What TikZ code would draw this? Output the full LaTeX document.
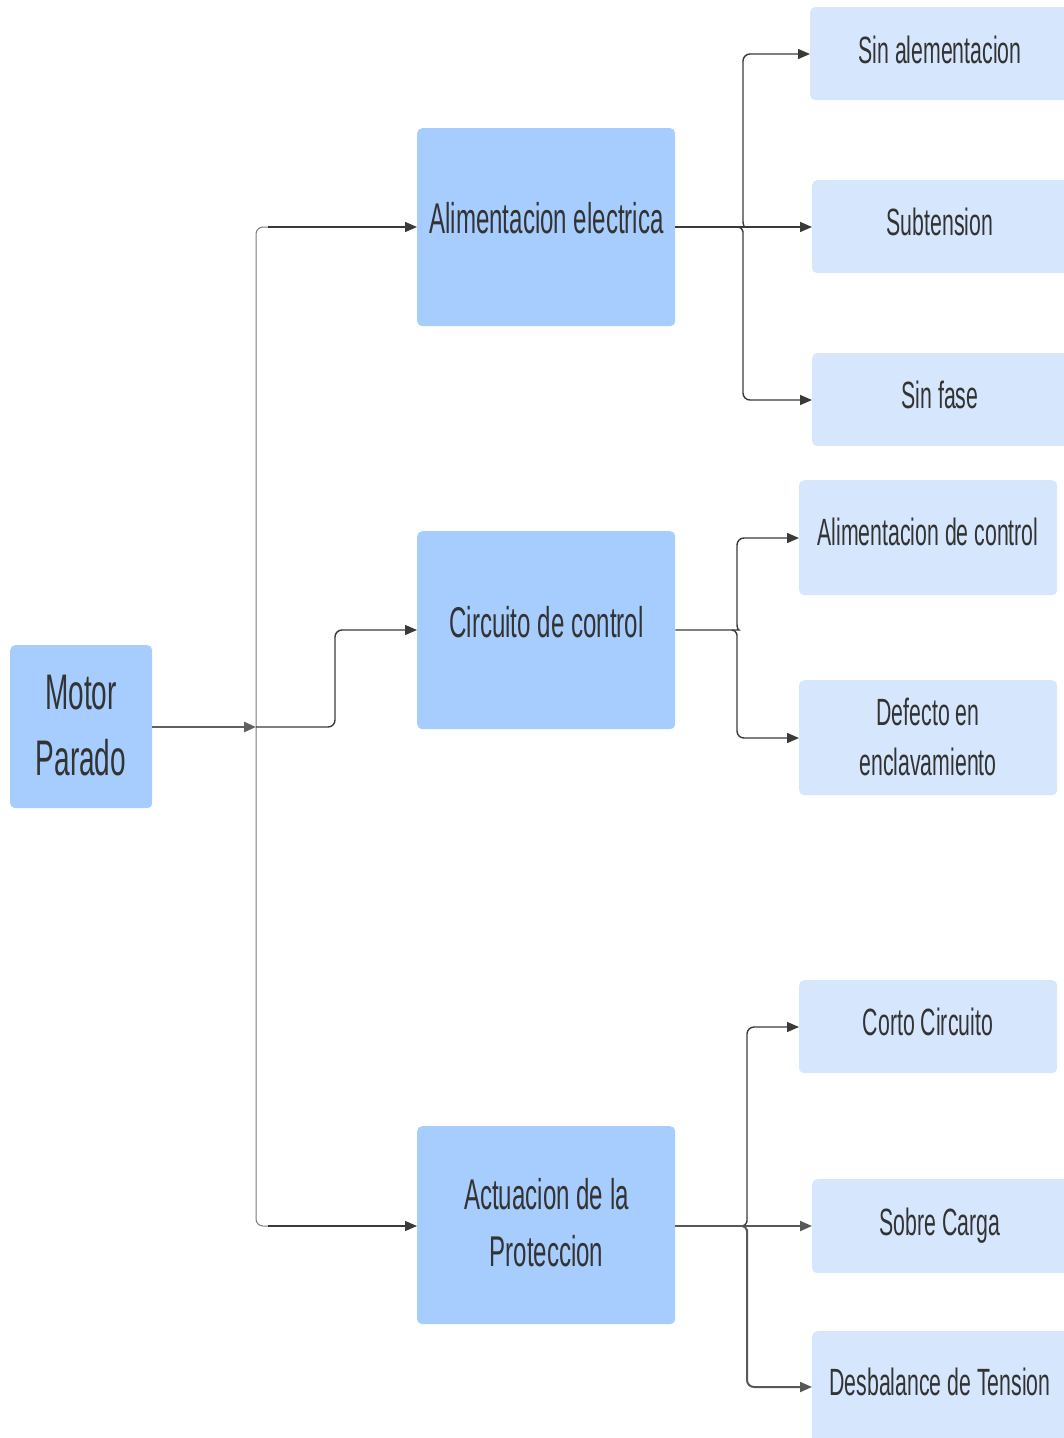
\documentclass[tikz,border=0pt]{standalone}
\usepackage{fontspec}
\setmainfont{Liberation Sans}[FakeStretch=0.56]
\usetikzlibrary{arrows.meta}
\definecolor{boxdark}{HTML}{A6CDFD}
\definecolor{boxlight}{HTML}{D6E7FD}
\definecolor{ink}{HTML}{333333}
\definecolor{wire}{HTML}{3A3A3A}
\definecolor{trunkgray}{HTML}{7A7A7A}
\tikzset{
  box/.style={draw=none, rounded corners=5pt, inner sep=0pt, anchor=north west},
  rootbox/.style={box, fill=boxdark},
  midbox/.style={box, fill=boxdark, minimum width=258pt, minimum height=198pt},
  leafbox/.style={box, fill=boxlight},
  txt/.style={anchor=base, text=ink, inner sep=0pt},
  bigtxt/.style={txt, font=\fontsize{50}{66}\selectfont},
  midtxt/.style={txt, font=\fontsize{43}{57}\selectfont},
  leaftxt/.style={txt, font=\fontsize{38}{50}\selectfont},
  conn/.style={draw=wire, line width=1.4pt, rounded corners=7pt,
    -{Triangle[length=12pt,width=10pt]}},
  trunk/.style={draw=trunkgray, line width=1pt, rounded corners=7pt},
}
\begin{document}
\begin{tikzpicture}[x=1pt,y=-1pt]
\useasboundingbox (0,0) rectangle (1064,1438);

% root
\node[rootbox, minimum width=142pt, minimum height=163pt] (root) at (10,645) {};
\node[bigtxt] (rootA) at (81,709) {Motor};
\node[bigtxt] (rootB) at (81,775) {Parado};

% second level
\node[midbox] (ae) at (417,128) {};
\node[midtxt] (aeT) at (546.5,233) {Alimentacion electrica};
\node[midbox] (cc) at (417,531) {};
\node[midtxt] (ccT) at (546.5,637) {Circuito de control};
\node[midbox] (ap) at (417,1126) {};
\node[midtxt] (apA) at (546.5,1209) {Actuacion de la};
\node[midtxt] (apB) at (546.5,1266) {Proteccion};

% leaves: power supply
\node[leafbox, minimum width=270pt, minimum height=93pt] (l1) at (810,7) {};
\node[leaftxt] (l1T) at (940,63) {Sin alementacion};
\node[leafbox, minimum width=270pt, minimum height=93pt] (l2) at (812,180) {};
\node[leaftxt] (l2T) at (940,235) {Subtension};
\node[leafbox, minimum width=270pt, minimum height=93pt] (l3) at (812,353) {};
\node[leaftxt] (l3T) at (940,408) {Sin fase};

% leaves: control circuit
\node[leafbox, minimum width=258pt, minimum height=115pt] (l4) at (799,480) {};
\node[leaftxt] (l4T) at (928,545) {Alimentacion de control};
\node[leafbox, minimum width=258pt, minimum height=115pt] (l5) at (799,680) {};
\node[leaftxt] (l5A) at (928,725) {Defecto en};
\node[leaftxt] (l5B) at (928,775) {enclavamiento};

% leaves: protection
\node[leafbox, minimum width=258pt, minimum height=93pt] (l6) at (799,980) {};
\node[leaftxt] (l6T) at (928,1035) {Corto Circuito};
\node[leafbox, minimum width=270pt, minimum height=94pt] (l7) at (812,1179) {};
\node[leaftxt] (l7T) at (940,1235) {Sobre Carga};
\node[leafbox, minimum width=270pt, minimum height=130pt] (l8) at (812,1331) {};
\node[leaftxt] (l8T) at (940,1395) {Desbalance de Tension};

% junctions on the trunk
\coordinate (j) at (256,727);
\coordinate (jt) at (268,227);
\coordinate (jb) at (268,1226);

% root to trunk
\draw[conn, draw=wire!80, line width=2.5pt] (root.east |- j) -- (j);
\draw[trunk] (jt) -- (256,227) -- (256,1226) -- (jb);
\draw[conn] (jt) -- (ae.west |- jt);
\draw[conn] (j) -- (335,727) |- (cc.west |- 0,630);
\draw[conn] (jb) -- (ap.west |- jb);

% power supply branches
\draw[conn] (ae.east |- 0,227) -- (738,227) to[out=0,in=-90] (743,215) |- (l1.west |- 0,54);
\draw[conn] (ae.east |- 0,227) -- (l2.west |- 0,227);
\draw[conn] (738,227) to[out=0,in=90] (743,239) |- (l3.west |- 0,400);

% control circuit branches
\draw[conn] (cc.east |- 0,630) -- (732,630) to[out=0,in=-90] (737,618) |- (l4.west |- 0,538);
\draw[conn] (732,630) to[out=0,in=90] (737,642) |- (l5.west |- 0,738);

% protection branches
\draw[conn, draw=wire!85, line width=2pt] (ap.east |- 0,1226) -- (l7.west |- 0,1226);
\draw[conn] (742,1226) to[out=0,in=-90] (747,1214) |- (l6.west |- 0,1027);
\draw[conn, draw=wire!85, line width=2pt] (742,1226) to[out=0,in=90] (747,1238) |- (l8.west |- 0,1387);
\end{tikzpicture}
\end{document}
